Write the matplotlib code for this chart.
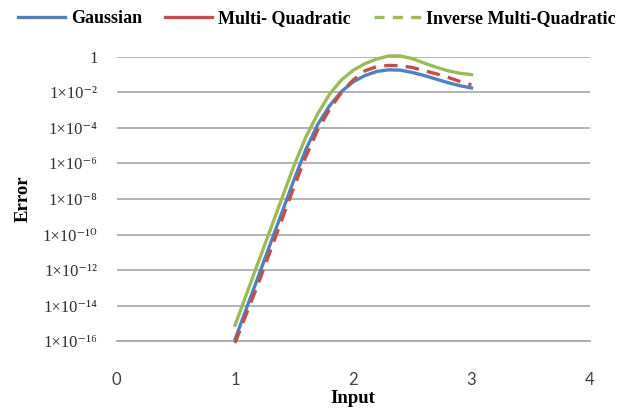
import numpy as np
import matplotlib.pyplot as plt
from matplotlib.lines import Line2D

# input values and log10(error)
x = [1.0, 1.1, 1.2, 1.3, 1.4, 1.5, 1.6, 1.7, 1.8, 1.9, 2.0,
     2.1, 2.2, 2.3, 2.4, 2.5, 2.6, 2.7, 2.8, 2.9, 3.0]
gaussian_exp = [-15.9, -14.1, -12.3, -10.5, -8.7, -6.9, -5.2, -3.8, -2.75, -1.95, -1.4,
                -1.05, -0.82, -0.73, -0.75, -0.88, -1.05, -1.25, -1.45, -1.62, -1.75]
multiquad_exp = [-16.1, -14.4, -12.7, -10.9, -9.1, -7.3, -5.6, -4.1, -2.95, -2.0, -1.3,
                 -0.78, -0.55, -0.48, -0.5, -0.6, -0.78, -0.95, -1.15, -1.38, -1.58]
invmulti_exp = [-15.1, -13.3, -11.5, -9.7, -7.9, -6.1, -4.5, -3.2, -2.1, -1.3, -0.75,
                -0.38, -0.12, 0.05, 0.05, -0.1, -0.35, -0.58, -0.78, -0.92, -1.0]

ytick_exps = [0, -2, -4, -6, -8, -10, -12, -14, -16]
sup = str.maketrans('-0123456789', '⁻⁰¹²³⁴⁵⁶⁷⁸⁹')
ytick_labels = ['1'] + ['1×10' + str(e).translate(sup) for e in ytick_exps[1:]]

blue = '#4F81BD'
red = '#C0504D'
green = '#9BBB59'
serif = ['Liberation Serif', 'DejaVu Serif']

fig = plt.figure(figsize=(6.28, 4.12), dpi=100)
ax = fig.add_axes([0.186, 0.172, 0.753, 0.690])

lw = 2.4
ax.plot(x, 10.0 ** np.array(gaussian_exp), color=blue, lw=lw, clip_on=False, zorder=3)
ax.plot(x, 10.0 ** np.array(invmulti_exp), color=green, lw=lw, clip_on=False, zorder=3)
ax.plot(x, 10.0 ** np.array(multiquad_exp), color=red, lw=lw, clip_on=False, zorder=4,
        dashes=(4, 2.5))

ax.set_yscale('log')
ax.set_ylim(1e-16, 1)
ax.set_xlim(0, 4)
ax.set_xticks([0, 1, 2, 3, 4])
ax.set_xticklabels(['0', '1', '2', '3', '4'], family='Lato', fontsize=12, color='#404040')
ax.set_yticks([10.0 ** e for e in ytick_exps])
ax.set_yticklabels(ytick_labels, family=serif, fontsize=12, color='#303030')
ax.yaxis.set_minor_locator(plt.NullLocator())
ax.tick_params(axis='both', length=0)
ax.tick_params(axis='y', pad=14)
ax.tick_params(axis='x', pad=22)
ax.grid(axis='y', color='#A6A6A6', lw=1.2)
ax.set_axisbelow(True)
for s in ['top', 'right', 'left']:
    ax.spines[s].set_visible(False)
ax.spines['bottom'].set_color('#A6A6A6')
ax.spines['bottom'].set_linewidth(1.2)

ax.set_xlabel('Input', family=serif, fontweight='bold', fontsize=13.5, labelpad=2)
ax.set_ylabel('Error', family=serif, fontweight='bold', fontsize=13.5, labelpad=8)

handles = [Line2D([], [], color=blue, lw=lw),
           Line2D([], [], color=red, lw=lw),
           Line2D([], [], color=green, lw=lw, dashes=(3, 2.5))]
fig.legend(handles, ['Gaussian', 'Multi- Quadratic', 'Inverse Multi-Quadratic'],
           loc='upper center', bbox_to_anchor=(0.505, 1.015), ncol=3, frameon=False,
           handlelength=2.6, handletextpad=0.3, columnspacing=1.3,
           prop={'family': serif, 'weight': 'bold', 'size': 13})

fig.savefig('out.png', dpi=100)
